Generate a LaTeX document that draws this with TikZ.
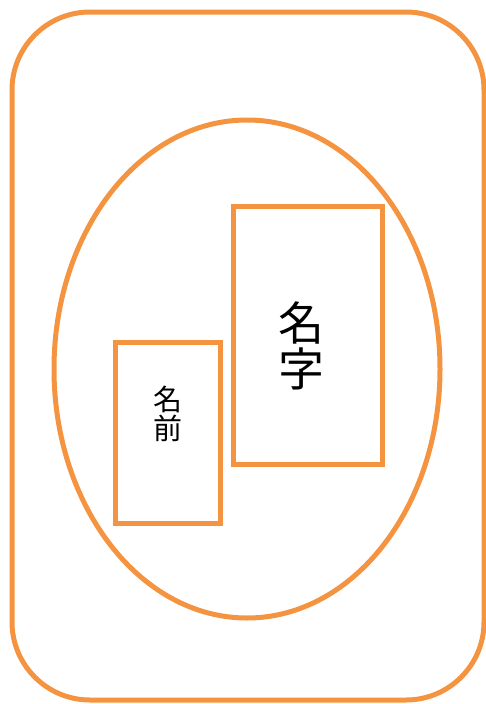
\documentclass[tikz,border=0pt]{standalone}
\usepackage{fontspec}
\usetikzlibrary{shapes.geometric}
\newfontfamily\cjk{Noto Sans CJK JP}
\definecolor{frame}{RGB}{245, 148, 64}

\begin{document}
\begin{tikzpicture}[
    x=1pt, y=-1pt,
    outline/.style={draw=frame, line width=5pt},
    label/.style={align=center, inner sep=0pt, text=black}
]
    \useasboundingbox (0,0) rectangle (486,704);
    % outer card
    \draw[outline, rounded corners=78pt] (12,12) rectangle (484,700);
    % ellipse
    \node[outline, ellipse, minimum width=386pt, minimum height=498pt, inner sep=0pt] (oval) at (247,369) {};
    % boxes
    \draw[outline] (233,206) rectangle (382,464);
    \draw[outline] (115,342) rectangle (220,523);
    \node[label, font={\cjk\fontsize{46}{46}\selectfont}] (myouji) at (301,346) {名\\字};
    \node[label, font={\cjk\fontsize{29}{29}\selectfont}] (namae) at (168,414) {名\\前};
\end{tikzpicture}
\end{document}
